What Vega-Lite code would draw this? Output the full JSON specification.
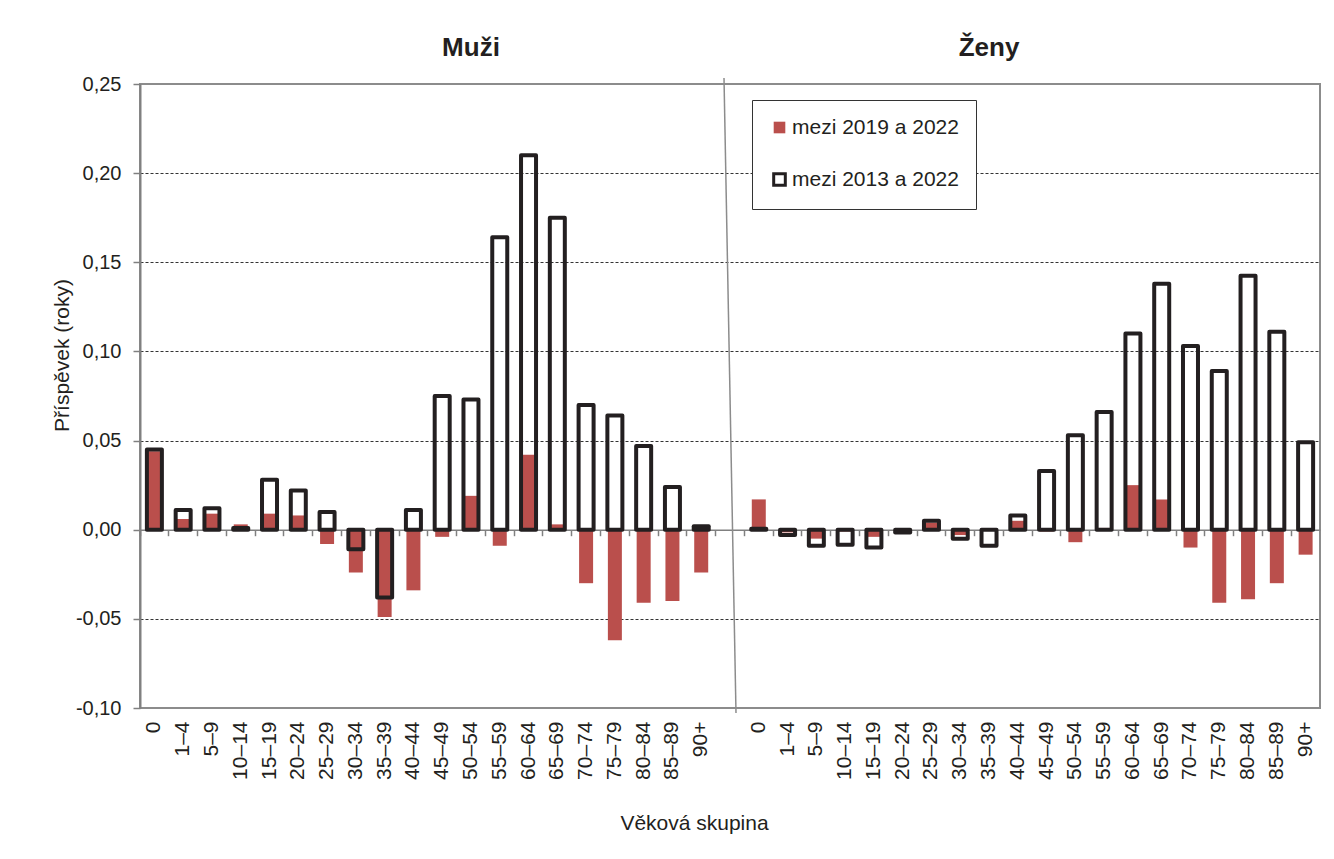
{
  "$schema": "https://vega.github.io/schema/vega-lite/v6.json",
  "autosize": {"type": "none"},
  "width": 1180,
  "height": 624,
  "padding": {"left": 140, "top": 84, "right": 14, "bottom": 151},
  "background": "white",
  "config": {
    "font": "Liberation Sans",
    "view": {"stroke": "#8c8c8c", "strokeWidth": 2},
    "locale": {"number": {"decimal": ",", "thousands": "\u00a0", "grouping": [3], "currency": ["", " Kč"], "minus": "-"}}
  },
  "data": {
    "values": [
      {"pohlavi": "Muži", "vek": "0", "r2019": 0.044, "r2013": 0.045},
      {"pohlavi": "Muži", "vek": "1–4", "r2019": 0.006, "r2013": 0.011},
      {"pohlavi": "Muži", "vek": "5–9", "r2019": 0.009, "r2013": 0.012},
      {"pohlavi": "Muži", "vek": "10–14", "r2019": 0.003, "r2013": 0.001},
      {"pohlavi": "Muži", "vek": "15–19", "r2019": 0.009, "r2013": 0.028},
      {"pohlavi": "Muži", "vek": "20–24", "r2019": 0.008, "r2013": 0.022},
      {"pohlavi": "Muži", "vek": "25–29", "r2019": -0.008, "r2013": 0.010},
      {"pohlavi": "Muži", "vek": "30–34", "r2019": -0.024, "r2013": -0.011},
      {"pohlavi": "Muži", "vek": "35–39", "r2019": -0.049, "r2013": -0.038},
      {"pohlavi": "Muži", "vek": "40–44", "r2019": -0.034, "r2013": 0.011},
      {"pohlavi": "Muži", "vek": "45–49", "r2019": -0.004, "r2013": 0.075},
      {"pohlavi": "Muži", "vek": "50–54", "r2019": 0.019, "r2013": 0.073},
      {"pohlavi": "Muži", "vek": "55–59", "r2019": -0.009, "r2013": 0.164},
      {"pohlavi": "Muži", "vek": "60–64", "r2019": 0.042, "r2013": 0.210},
      {"pohlavi": "Muži", "vek": "65–69", "r2019": 0.003, "r2013": 0.175},
      {"pohlavi": "Muži", "vek": "70–74", "r2019": -0.030, "r2013": 0.070},
      {"pohlavi": "Muži", "vek": "75–79", "r2019": -0.062, "r2013": 0.064},
      {"pohlavi": "Muži", "vek": "80–84", "r2019": -0.041, "r2013": 0.047},
      {"pohlavi": "Muži", "vek": "85–89", "r2019": -0.040, "r2013": 0.024},
      {"pohlavi": "Muži", "vek": "90+", "r2019": -0.024, "r2013": 0.002},
      {"pohlavi": "Ženy", "vek": "0", "r2019": 0.017, "r2013": 0.0005},
      {"pohlavi": "Ženy", "vek": "1–4", "r2019": -0.0015, "r2013": -0.003},
      {"pohlavi": "Ženy", "vek": "5–9", "r2019": -0.005, "r2013": -0.009},
      {"pohlavi": "Ženy", "vek": "10–14", "r2019": -0.001, "r2013": -0.0085},
      {"pohlavi": "Ženy", "vek": "15–19", "r2019": -0.004, "r2013": -0.010},
      {"pohlavi": "Ženy", "vek": "20–24", "r2019": -0.001, "r2013": -0.0015},
      {"pohlavi": "Ženy", "vek": "25–29", "r2019": 0.004, "r2013": 0.005},
      {"pohlavi": "Ženy", "vek": "30–34", "r2019": -0.003, "r2013": -0.005},
      {"pohlavi": "Ženy", "vek": "35–39", "r2019": 0.0, "r2013": -0.009},
      {"pohlavi": "Ženy", "vek": "40–44", "r2019": 0.005, "r2013": 0.008},
      {"pohlavi": "Ženy", "vek": "45–49", "r2019": -0.001, "r2013": 0.033},
      {"pohlavi": "Ženy", "vek": "50–54", "r2019": -0.007, "r2013": 0.053},
      {"pohlavi": "Ženy", "vek": "55–59", "r2019": 0.001, "r2013": 0.066},
      {"pohlavi": "Ženy", "vek": "60–64", "r2019": 0.025, "r2013": 0.110},
      {"pohlavi": "Ženy", "vek": "65–69", "r2019": 0.017, "r2013": 0.138},
      {"pohlavi": "Ženy", "vek": "70–74", "r2019": -0.010, "r2013": 0.103},
      {"pohlavi": "Ženy", "vek": "75–79", "r2019": -0.041, "r2013": 0.089},
      {"pohlavi": "Ženy", "vek": "80–84", "r2019": -0.039, "r2013": 0.1425},
      {"pohlavi": "Ženy", "vek": "85–89", "r2019": -0.030, "r2013": 0.111},
      {"pohlavi": "Ženy", "vek": "90+", "r2019": -0.014, "r2013": 0.049}
    ]
  },
  "transform": [
    {"calculate": "(datum.pohlavi == 'Muži' ? 'm|' : 'z|') + datum.vek", "as": "kat"},
    {"fold": ["r2019", "r2013"], "as": ["obdobi", "hodnota"]},
    {"calculate": "datum.obdobi == 'r2019' ? 'mezi 2019 a 2022' : 'mezi 2013 a 2022'", "as": "serie"}
  ],
  "resolve": {"axis": {"x": "independent", "y": "shared"}},
  "layer": [
    {
      "transform": [{"filter": "datum.obdobi == 'r2019'"}],
      "mark": {"type": "bar", "size": 14, "strokeWidth": 0},
      "encoding": {
        "x": {
          "field": "kat", "type": "nominal", "sort": null,
          "scale": {
            "domain": ["m|0","m|1–4","m|5–9","m|10–14","m|15–19","m|20–24","m|25–29","m|30–34","m|35–39","m|40–44","m|45–49","m|50–54","m|55–59","m|60–64","m|65–69","m|70–74","m|75–79","m|80–84","m|85–89","m|90+","gap","z|0","z|1–4","z|5–9","z|10–14","z|15–19","z|20–24","z|25–29","z|30–34","z|35–39","z|40–44","z|45–49","z|50–54","z|55–59","z|60–64","z|65–69","z|70–74","z|75–79","z|80–84","z|85–89","z|90+"],
            "paddingInner": 0, "paddingOuter": 0
          },
          "axis": {
            "orient": "bottom",
            "title": "Věková skupina",
            "titleFontSize": 21, "titleFontWeight": "normal", "titleColor": "#231F20",
            "titleX": 554, "titleY": 121, "titleAlign": "center", "titleBaseline": "alphabetic",
            "labelExpr": "datum.value == 'gap' ? '' : slice(datum.value, 2)",
            "labelAngle": -90, "labelFontSize": 21, "labelColor": "#231F20", "labelPadding": 13,
            "labelOverlap": false, "labelBound": false,
            "ticks": false, "domain": false, "grid": false
          }
        },
        "y": {
          "field": "hodnota", "type": "quantitative",
          "scale": {"domain": [-0.1, 0.25], "nice": false, "zero": false},
          "axis": {
            "orient": "left",
            "values": [-0.1, -0.05, 0, 0.05, 0.1, 0.15, 0.2, 0.25],
            "format": ".2f",
            "title": "Příspěvek (roky)",
            "titleFontSize": 21, "titleFontWeight": "normal", "titleColor": "#231F20",
            "titleX": -78, "titleY": 271, "titleAngle": -90, "titleAlign": "center", "titleBaseline": "middle",
            "labelFontSize": 20, "labelColor": "#231F20", "labelPadding": 12,
            "tickSize": 7, "tickColor": "#808080", "tickWidth": 1.5,
            "domainColor": "#808080", "domainWidth": 2,
            "grid": true, "gridColor": "#333333", "gridDash": [3, 2], "gridWidth": 1,
            "gridOpacity": {"condition": {"test": "datum.value > 0.249 || datum.value < -0.099 || abs(datum.value) < 0.001", "value": 0}, "value": 1}
          }
        },
        "fill": {
          "field": "serie", "type": "nominal",
          "scale": {"domain": ["mezi 2019 a 2022", "mezi 2013 a 2022"], "range": ["#BA4F4C", "transparent"]},
          "legend": {
            "title": null, "orient": "none", "legendX": 612, "legendY": 16,
            "fillColor": "white", "strokeColor": "#333333",
            "padding": 17, "rowPadding": 27, "labelLimit": 400,
            "labelFontSize": 21, "labelColor": "#231F20", "labelOffset": 2,
            "symbolType": "square", "symbolSize": 135, "symbolStrokeWidth": 3
          }
        }
      }
    },
    {
      "transform": [{"filter": "datum.obdobi == 'r2013'"}],
      "mark": {"type": "bar", "size": 15, "strokeWidth": 4, "strokeJoin": "round"},
      "encoding": {
        "x": {
          "field": "kat", "type": "nominal", "sort": null,
          "axis": {
            "orient": "top", "offset": -445.7, "labels": false, "title": null,
            "ticks": true, "tickSize": -6, "tickColor": "#808080", "tickWidth": 1.5,
            "bandPosition": 0,
            "domain": true, "domainColor": "#808080", "domainWidth": 1.5, "grid": false
          }
        },
        "y": {"field": "hodnota", "type": "quantitative"},
        "fill": {"field": "serie", "type": "nominal"},
        "stroke": {
          "field": "serie", "type": "nominal",
          "scale": {"domain": ["mezi 2019 a 2022", "mezi 2013 a 2022"], "range": ["transparent", "#231F20"]}
        }
      }
    },
    {
      "data": {"values": [{"oddil": "gap"}]},
      "transform": [],
      "mark": {"type": "rule", "color": "#8c8c8c", "strokeWidth": 1.5, "xOffset": -6, "x2Offset": 6, "yOffset": -6, "y2Offset": 5, "clip": false},
      "encoding": {
        "x": {"field": "oddil", "type": "nominal", "axis": null},
        "x2": {"field": "oddil"},
        "y": {"datum": 0.25, "type": "quantitative"},
        "y2": {"datum": -0.1}
      }
    },
    {
      "data": {"values": [{"nadpis": "Muži", "pozice": "m|50–54"}, {"nadpis": "Ženy", "pozice": "z|35–39"}]},
      "transform": [],
      "mark": {"type": "text", "fontSize": 26, "fontWeight": "bold", "color": "#231F20", "baseline": "alphabetic", "align": "center", "dy": -28},
      "encoding": {
        "x": {"field": "pozice", "type": "nominal", "axis": null},
        "y": {"datum": 0.25, "type": "quantitative"},
        "text": {"field": "nadpis"}
      }
    }
  ]
}
